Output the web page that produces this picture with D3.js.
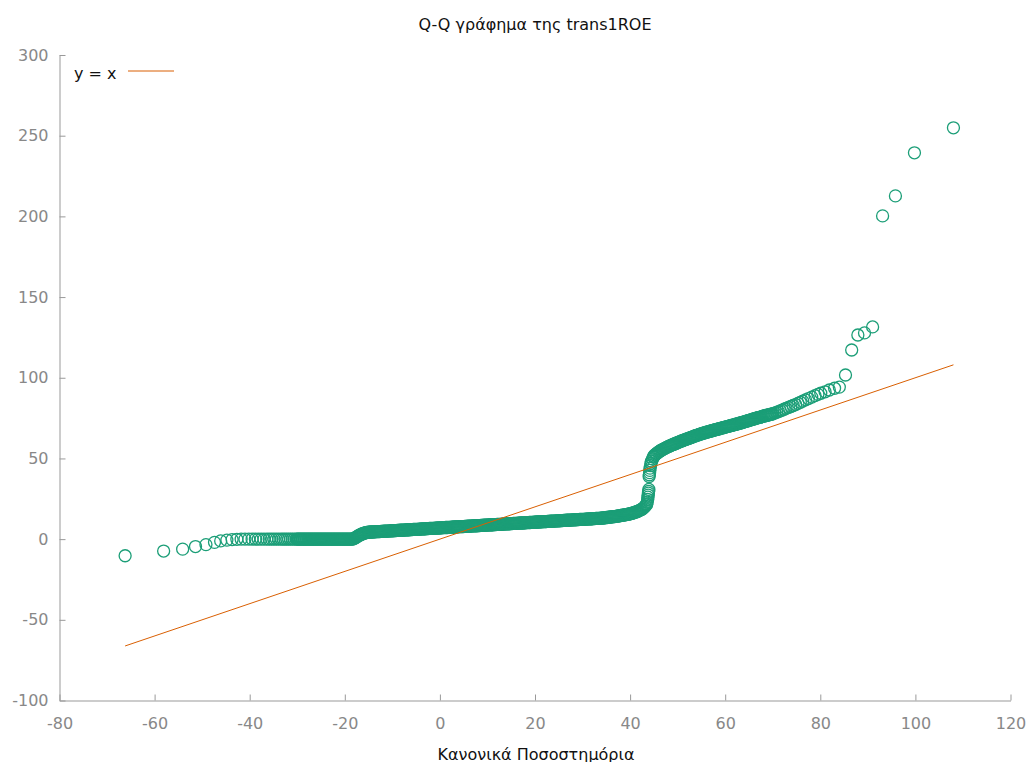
<!DOCTYPE html>
<html lang="el">
<head>
<meta charset="UTF-8">
<title>Q-Q γράφημα της trans1ROE</title>
<script src="https://cdn.jsdelivr.net/npm/d3@7"></script>
<style>
    body { margin: 0; background: #fff; }
    text { font-family: "DejaVu Sans", Verdana, sans-serif; }
    .axis text { fill: #888; font-size: 16px; }
    .axis path, .axis line { stroke: #999; }
</style>
</head>
<body>
<svg id="main" width="1031" height="762"></svg>
<script>
    // [theoretical quantile, sample quantile]
    const leftTail = [
        [-66.2,-10.3],[-58.1,-7.4],[-54.1,-6.2],[-51.4,-4.6],[-49.2,-3.4],[-47.4,-2.0],[-46.1,-1.1],
        [-44.8,-0.6],[-43.7,-0.3],[-42.7,-0.1],[-41.8,0],[-41.0,0],[-40.2,0],[-39.5,0],[-38.8,0],
        [-38.2,0],[-37.6,0],[-37.0,0],[-36.4,0],[-35.9,0],[-35.4,0],[-34.9,0],[-34.4,0],[-33.9,0],
        [-33.4,0],[-33.0,0],[-32.6,0],[-32.2,0],[-31.8,0],[-31.4,0],[-31.0,0],[-30.6,0],[-30.2,0]
    ];
    const zeroRun = [
        [-30.0,0],[-29.8,0],[-29.6,0],[-29.4,0],[-29.2,0],[-29.0,0],[-28.8,0],[-28.6,0],[-28.4,0],[-28.2,0],
        [-28.0,0],[-27.8,0],[-27.6,0],[-27.4,0],[-27.2,0],[-27.0,0],[-26.8,0],[-26.6,0],[-26.4,0],[-26.2,0],
        [-26.0,0],[-25.8,0],[-25.6,0],[-25.4,0],[-25.2,0],[-25.0,0],[-24.8,0],[-24.6,0],[-24.4,0],[-24.2,0],
        [-24.0,0],[-23.8,0],[-23.6,0],[-23.4,0],[-23.2,0],[-23.0,0],[-22.8,0],[-22.6,0],[-22.4,0],[-22.2,0],
        [-22.0,0],[-21.8,0],[-21.6,0],[-21.4,0],[-21.2,0],[-21.0,0],[-20.8,0],[-20.6,0],[-20.4,0],[-20.2,0],
        [-20.0,0],[-19.8,0],[-19.6,0],[-19.4,0],[-19.2,0],[-19.0,0],[-18.8,0],[-18.6,0],[-18.4,0]
    ];
    const lowerBand = [
        [-18.2,0.2],[-18.0,0.5],[-17.8,0.8],[-17.6,1.2],[-17.4,1.6],[-17.2,2.0],[-17.0,2.3],[-16.8,2.6],
        [-16.6,2.9],[-16.4,3.2],[-16.2,3.4],[-16.0,3.6],[-15.8,3.8],[-15.6,4.0],[-15.4,4.1],[-15.2,4.2],[-15.0,4.3],
        [-14.8,4.3],[-14.6,4.4],[-14.4,4.4],[-14.2,4.4],[-14.0,4.5],[-13.8,4.5],[-13.6,4.5],[-13.4,4.6],[-13.2,4.6],[-13.0,4.7],
        [-12.8,4.7],[-12.6,4.7],[-12.4,4.8],[-12.2,4.8],[-12.0,4.8],[-11.8,4.9],[-11.6,4.9],[-11.4,4.9],[-11.2,5.0],[-11.0,5.0],
        [-10.8,5.0],[-10.6,5.1],[-10.4,5.1],[-10.2,5.2],[-10.0,5.2],[-9.8,5.2],[-9.6,5.3],[-9.4,5.3],[-9.2,5.3],[-9.0,5.4],
        [-8.8,5.4],[-8.6,5.4],[-8.4,5.5],[-8.2,5.5],[-8.0,5.5],[-7.8,5.6],[-7.6,5.6],[-7.4,5.6],[-7.2,5.7],[-7.0,5.7],
        [-6.8,5.8],[-6.6,5.8],[-6.4,5.8],[-6.2,5.9],[-6.0,5.9],[-5.8,5.9],[-5.6,6.0],[-5.4,6.0],[-5.2,6.0],[-5.0,6.1],
        [-4.8,6.1],[-4.6,6.1],[-4.4,6.2],[-4.2,6.2],[-4.0,6.2],[-3.8,6.3],[-3.6,6.3],[-3.4,6.4],[-3.2,6.4],[-3.0,6.4],
        [-2.8,6.5],[-2.6,6.5],[-2.4,6.5],[-2.2,6.6],[-2.0,6.6],[-1.8,6.6],[-1.6,6.7],[-1.4,6.7],[-1.2,6.7],[-1.0,6.8],
        [-0.8,6.8],[-0.6,6.8],[-0.4,6.9],[-0.2,6.9],[0.0,7.0],[0.2,7.0],[0.4,7.0],[0.6,7.1],[0.8,7.1],[1.0,7.1],
        [1.2,7.2],[1.4,7.2],[1.6,7.2],[1.8,7.3],[2.0,7.3],[2.2,7.3],[2.4,7.4],[2.6,7.4],[2.8,7.4],[3.0,7.5],
        [3.2,7.5],[3.4,7.6],[3.6,7.6],[3.8,7.6],[4.0,7.7],[4.2,7.7],[4.4,7.7],[4.6,7.8],[4.8,7.8],[5.0,7.8],
        [5.2,7.9],[5.4,7.9],[5.6,7.9],[5.8,8.0],[6.0,8.0],[6.2,8.1],[6.4,8.1],[6.6,8.1],[6.8,8.2],[7.0,8.2],
        [7.2,8.2],[7.4,8.3],[7.6,8.3],[7.8,8.3],[8.0,8.4],[8.2,8.4],[8.4,8.4],[8.6,8.5],[8.8,8.5],[9.0,8.5],
        [9.2,8.6],[9.4,8.6],[9.6,8.7],[9.8,8.7],[10.0,8.7],[10.2,8.8],[10.4,8.8],[10.6,8.8],[10.8,8.9],[11.0,8.9],
        [11.2,8.9],[11.4,9.0],[11.6,9.0],[11.8,9.0],[12.0,9.1],[12.2,9.1],[12.4,9.1],[12.6,9.2],[12.8,9.2],[13.0,9.3],
        [13.2,9.3],[13.4,9.3],[13.6,9.4],[13.8,9.4],[14.0,9.4],[14.2,9.5],[14.4,9.5],[14.6,9.5],[14.8,9.6],[15.0,9.6],
        [15.2,9.6],[15.4,9.7],[15.6,9.7],[15.8,9.8],[16.0,9.8],[16.2,9.8],[16.4,9.9],[16.6,9.9],[16.8,9.9],[17.0,10.0],
        [17.2,10.0],[17.4,10.0],[17.6,10.1],[17.8,10.1],[18.0,10.1],[18.2,10.2],[18.4,10.2],[18.6,10.2],[18.8,10.3],[19.0,10.3],
        [19.2,10.4],[19.4,10.4],[19.6,10.4],[19.8,10.5],[20.0,10.5],[20.2,10.5],[20.4,10.6],[20.6,10.6],[20.8,10.6],[21.0,10.7],
        [21.2,10.7],[21.4,10.7],[21.6,10.8],[21.8,10.8],[22.0,10.8],[22.2,10.9],[22.4,10.9],[22.6,11.0],[22.8,11.0],[23.0,11.0],
        [23.2,11.1],[23.4,11.1],[23.6,11.1],[23.8,11.2],[24.0,11.2],[24.2,11.2],[24.4,11.3],[24.6,11.3],[24.8,11.3],[25.0,11.4],
        [25.2,11.4],[25.4,11.5],[25.6,11.5],[25.8,11.5],[26.0,11.6],[26.2,11.6],[26.4,11.6],[26.6,11.7],[26.8,11.7],[27.0,11.7],
        [27.2,11.8],[27.4,11.8],[27.6,11.8],[27.8,11.9],[28.0,11.9],[28.2,11.9],[28.4,12.0],[28.6,12.0],[28.8,12.1],[29.0,12.1],
        [29.2,12.1],[29.4,12.2],[29.6,12.2],[29.8,12.2],[30.0,12.3],[30.2,12.3],[30.4,12.3],[30.6,12.4],[30.8,12.4],[31.0,12.4],
        [31.2,12.5],[31.4,12.5],[31.6,12.5],[31.8,12.6],[32.0,12.6],[32.2,12.7],[32.4,12.7],[32.6,12.7],[32.8,12.8],[33.0,12.8],
        [33.2,12.8],[33.4,12.9],[33.6,12.9],[33.8,13.0],[34.0,13.0],[34.2,13.1],[34.4,13.1],[34.6,13.2],[34.8,13.3],[35.0,13.4],
        [35.2,13.4],[35.4,13.5],[35.6,13.6],[35.8,13.7],[36.0,13.7],[36.2,13.8],[36.4,13.9],[36.6,14.0],[36.8,14.0],[37.0,14.1],
        [37.2,14.2],[37.4,14.3],[37.6,14.4],[37.8,14.5],[38.0,14.6],[38.2,14.7],[38.4,14.8],[38.6,14.9],[38.8,15.0],[39.0,15.1],
        [39.2,15.2],[39.4,15.3],[39.6,15.4],[39.8,15.6],[40.0,15.7],[40.2,15.9],[40.4,16.0],[40.6,16.2],[40.8,16.4],[41.0,16.6],
        [41.2,16.8],[41.4,17.0],[41.6,17.2],[41.8,17.5],[42.0,17.8],[42.2,18.1],[42.4,18.4],[42.6,18.8],[42.8,19.2],[43.0,19.8],
        [43.2,20.5],[43.4,21.2]
    ];
    const jump = [
        [43.5,21.8],[43.6,23.0],[43.7,24.6],[43.75,26.0],[43.8,27.3],[43.85,28.5],[43.9,29.6],[43.95,30.8],
        [44.0,38.8],[44.05,39.9],[44.1,41.2],[44.15,42.6],[44.2,44.0],[44.3,45.5],[44.4,47.0],[44.5,48.3],
        [44.7,49.7],[44.9,50.9],[45.0,51.5]
    ];
    const upperBand = [
        [45.2,52.2],[45.4,52.7],[45.6,53.1],[45.8,53.6],[46.0,54.0],[46.2,54.4],[46.4,54.8],[46.6,55.2],[46.8,55.5],[47.0,55.8],
        [47.2,56.1],[47.4,56.4],[47.6,56.7],[47.8,57.0],[48.0,57.3],[48.2,57.6],[48.4,57.8],[48.6,58.1],[48.8,58.4],[49.0,58.6],
        [49.2,58.8],[49.4,59.1],[49.6,59.3],[49.8,59.6],[50.0,59.8],[50.2,60.1],[50.4,60.3],[50.6,60.6],[50.8,60.8],[51.0,61.0],
        [51.2,61.2],[51.4,61.5],[51.6,61.7],[51.8,61.9],[52.0,62.1],[52.2,62.3],[52.4,62.5],[52.6,62.8],[52.8,63.0],[53.0,63.2],
        [53.2,63.4],[53.4,63.7],[53.6,63.9],[53.8,64.1],[54.0,64.3],[54.2,64.5],[54.4,64.7],[54.6,64.9],[54.8,65.1],[55.0,65.3],
        [55.2,65.5],[55.4,65.7],[55.6,65.8],[55.8,66.0],[56.0,66.2],[56.2,66.4],[56.4,66.5],[56.6,66.7],[56.8,66.8],[57.0,67.0],
        [57.2,67.2],[57.4,67.3],[57.6,67.5],[57.8,67.7],[58.0,67.8],[58.2,68.0],[58.4,68.1],[58.6,68.3],[58.8,68.4],[59.0,68.6],
        [59.2,68.8],[59.4,68.9],[59.6,69.1],[59.8,69.3],[60.0,69.4],[60.2,69.6],[60.4,69.7],[60.6,69.9],[60.8,70.0],[61.0,70.2],
        [61.2,70.4],[61.4,70.5],[61.6,70.7],[61.8,70.8],[62.0,71.0],[62.2,71.2],[62.4,71.3],[62.6,71.5],[62.8,71.6],[63.0,71.8],
        [63.2,72.0],[63.4,72.1],[63.6,72.3],[63.8,72.5],[64.0,72.7],[64.2,72.8],[64.4,73.0],[64.6,73.2],[64.8,73.4],[65.0,73.6],
        [65.2,73.8],[65.4,73.9],[65.6,74.1],[65.8,74.3],[66.0,74.5],[66.2,74.6],[66.4,74.8],[66.6,75.0],[66.8,75.2],[67.0,75.3],
        [67.2,75.5],[67.4,75.6],[67.6,75.8],[67.8,76.0],[68.0,76.2],[68.2,76.3],[68.4,76.5],[68.6,76.6],[68.8,76.8],[69.0,76.9],
        [69.2,77.1],[69.4,77.2],[69.6,77.4],[69.8,77.5],[70.0,77.7],
        [70.4,78.1],[70.8,78.6],[71.2,79.0],[71.6,79.5],[72.0,80.0],[72.4,80.5],[72.8,81.0]
    ];
    const rightTail = [
        [73.3,81.6],[73.8,82.2],[74.3,82.8],[74.8,83.4],[75.3,84.1],[75.8,84.8],[76.3,85.5],[76.9,86.3],
        [77.5,87.1],[78.2,88.0],[78.9,88.9],[79.5,89.7],[80.1,90.4],[81.0,91.3],[81.9,92.4],[83.0,93.5],
        [84.0,94.2],[85.3,101.7],[86.6,117.2],[87.9,126.5],[89.3,127.8],[91.0,131.5],[93.1,200.3],
        [95.8,212.7],[99.8,239.4],[108.0,254.9]
    ];
    const xTicks = [-80, -60, -40, -20, 0, 20, 40, 60, 80, 100, 120];
    const yTicks = [-100, -50, 0, 50, 100, 150, 200, 250, 300];
    const titleText = 'Q-Q γράφημα της trans1ROE';
    const xLabel = 'Κανονικά Ποσοστημόρια';
    const legendLabel = 'y = x';

    const pointColor = '#1b9e77';
    const lineColor = '#d95f02';

    let svg = d3.select('svg#main');
    let points = [].concat(leftTail, zeroRun, lowerBand, jump, upperBand, rightTail);

    let xScale = d3.scaleLinear().domain([-80, 120]).range([59.5, 1010.5]);
    let yScale = d3.scaleLinear().domain([-100, 300]).range([700.5, 55]);

    // plain hyphen for negatives, like the original
    let plain = d => String(d);

    // axes (ticks point inwards, only left and bottom)
    svg.append('g')
        .attr('class', 'axis')
        .attr('transform', 'translate(0,700.5)')
        .call(d3.axisBottom(xScale).tickValues(xTicks).tickFormat(plain)
            .tickSizeInner(-6).tickSizeOuter(0).tickPadding(17));

    svg.append('g')
        .attr('class', 'axis')
        .attr('transform', 'translate(59.5,0)')
        .call(d3.axisLeft(yScale).tickValues(yTicks).tickFormat(plain)
            .tickSizeInner(-6).tickSizeOuter(0).tickPadding(11));

    // points
    svg.append('g')
        .selectAll('circle')
        .data(points)
        .enter()
        .append('circle')
        .attr('cx', d => xScale(d[0]))
        .attr('cy', d => yScale(d[1]))
        .attr('r', 6)
        .attr('fill', 'none')
        .attr('stroke', pointColor)
        .attr('stroke-width', 1.3);

    // y = x reference line over the range of theoretical quantiles
    let xr = d3.extent(points, d => d[0]);
    svg.append('line')
        .attr('x1', xScale(xr[0])).attr('y1', yScale(xr[0]))
        .attr('x2', xScale(xr[1])).attr('y2', yScale(xr[1]))
        .attr('stroke', lineColor)
        .attr('stroke-width', 1);

    // legend
    svg.append('text')
        .attr('x', 74).attr('y', 78.5)
        .style('font-size', '16px').attr('fill', '#111')
        .text(legendLabel);
    svg.append('line')
        .attr('x1', 128).attr('x2', 174)
        .attr('y1', 71).attr('y2', 71)
        .attr('stroke', lineColor).attr('stroke-width', 1);

    // titles
    svg.append('text')
        .attr('x', 535).attr('y', 30)
        .attr('text-anchor', 'middle')
        .style('font-size', '16px').attr('fill', '#111')
        .text(titleText);
    svg.append('text')
        .attr('x', 536).attr('y', 760)
        .attr('text-anchor', 'middle')
        .style('font-size', '16px').attr('fill', '#111')
        .text(xLabel);
</script>
</body>
</html>
